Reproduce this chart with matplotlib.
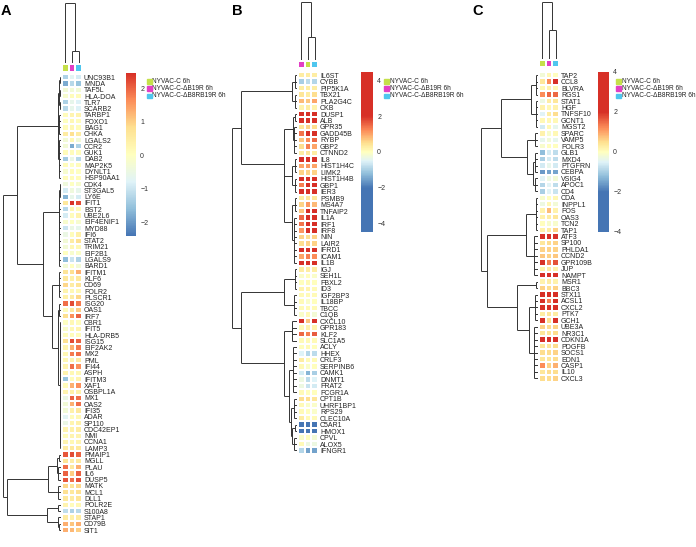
import numpy as np
import matplotlib
matplotlib.use('Agg')
import matplotlib.pyplot as plt
from matplotlib.colors import LinearSegmentedColormap, Normalize, ListedColormap
from matplotlib.cm import ScalarMappable
from matplotlib.patches import Rectangle

plt.rcParams['font.family'] = ['Liberation Sans', 'DejaVu Sans']

# ---------------- data ----------------
conditions = ["NYVAC-C 6h", "NYVAC-C-\u0394B19R 6h", "NYVAC-C-\u0394B8RB19R 6h"]
cond_colors = ['#c5e04a', '#e23fc4', '#4fc6ee']

# Panel A (columns shown: NYVAC-C, dB19R, dB8RB19R)
cols_A = [0, 1, 2]
genes_A = ["UNC93B1", "MNDA", "TAF5L", "HLA-DOA", "TLR7", "SCARB2", "TARBP1", "FOXO1", "BAG1", "CHKA",
           "LGALS2", "CCR2", "GUK1", "DAB2", "MAP2K5", "DYNLT1", "HSP90AA1", "CDK4", "ST3GAL5", "LY6E",
           "IFIT1", "BST2", "UBE2L6", "EIF4ENIF1", "MYD88", "IFI6", "STAT2", "TRIM21", "EIF2B1", "LGALS9",
           "BARD1", "IFITM1", "KLF6", "CD69", "FOLR2", "PLSCR1", "ISG20", "OAS1", "IRF7", "CBR1",
           "IFIT5", "HLA-DRB5", "ISG15", "EIF2AK2", "MX2", "PML", "IFI44", "ASPH", "IFITM3", "XAF1",
           "OSBPL1A", "MX1", "OAS2", "IFI35", "ADAR", "SP110", "CDC42EP1", "NMI", "CCNA1", "LAMP3",
           "PMAIP1", "MGLL", "PLAU", "IL6", "DUSP5", "MATK", "MCL1", "DLL1", "POLR2E", "S100A8",
           "STAP1", "CD79B", "SIT1"]
values_A = [[-1.3, -0.7, -0.9], [-1.8, -1.2, -1.5], [-0.3, -0.3, -0.3], [-0.2, 0.1, 0.1], [-1.3, -0.6, -0.8],
            [-1.2, -0.6, -0.8], [0.1, 0.3, 0.3], [0.0, 0.2, 0.1], [0.1, 0.2, 0.1], [0.5, 0.8, 0.5],
            [-0.3, 0.2, -0.3], [-0.3, -1.8, -1.3], [0.1, 0.1, 0.1], [-1.4, -0.5, -1.2], [0.1, 0.0, 0.1],
            [-0.2, 0.1, 0.0], [0.1, 0.1, 0.1], [-0.4, 0.0, -0.2], [-0.9, -0.4, -0.6], [-1.7, -0.6, -0.9],
            [0.6, 2.4, 2.2], [-1.2, 0.2, 0.1], [-0.9, 0.1, 0.3], [-0.2, 0.0, -0.2], [-1.0, -0.5, -0.6],
            [-0.5, 0.1, 0.4], [-0.3, 0.5, 0.8], [-0.3, 0.2, 0.2], [0.0, -0.2, -0.1], [-1.6, -1.0, -1.3],
            [-0.3, 0.0, -0.3], [0.7, 0.8, 1.3], [0.6, 0.4, 0.6], [0.9, 0.5, 0.7], [0.3, 0.2, 0.2],
            [0.4, 0.5, 0.9], [1.9, 2.2, 1.8], [0.1, 0.6, 1.0], [0.8, 1.6, 2.0], [0.0, 0.2, 0.1],
            [-0.1, 0.2, 0.3], [0.1, 0.1, 0.1], [0.8, 2.2, 2.0], [0.3, 1.3, 1.8], [0.2, 1.8, 1.9],
            [0.2, 0.3, 0.5], [0.3, 1.9, 1.6], [0.3, 0.2, 0.2], [-1.5, 0.1, 0.3], [0.1, 1.3, 1.6],
            [0.3, 0.4, 0.4], [-0.5, 2.0, 1.9], [-0.3, 1.3, 1.9], [-0.3, 0.4, 0.6], [-0.7, 0.1, 0.2],
            [-0.5, 0.3, 0.4], [0.3, 0.4, 0.5], [0.1, 0.3, 0.3], [0.3, 0.2, 0.3], [0.5, 0.6, 0.6],
            [2.1, 2.2, 2.0], [0.7, 0.5, 0.6], [1.9, 0.6, 1.3], [2.0, 1.0, 2.0], [2.1, 1.9, 2.2],
            [0.9, 0.7, 0.9], [0.8, 0.6, 0.8], [0.6, 0.5, 0.7], [0.3, 0.1, 0.2], [-1.1, -1.3, -1.2],
            [0.5, 0.4, 0.5], [1.3, 1.1, 1.3], [1.3, 1.2, 1.0]]

# Panel B (columns shown: dB19R, NYVAC-C, dB8RB19R)
cols_B = [1, 0, 2]
genes_B = ["IL6ST", "CYBB", "PIP5K1A", "TBX21", "PLA2G4C", "CKB", "DUSP1", "ALB", "GPR35", "GADD45B",
           "RYBP", "GBP2", "CTNND2", "IL8", "HIST1H4C", "LIMK2", "HIST1H4B", "GBP1", "IER3", "PSMB9",
           "MS4A7", "TNFAIP2", "IL1A", "IRF1", "IRF8", "NIN", "LAIR2", "IFRD1", "ICAM1", "IL1B",
           "IGJ", "SEH1L", "FBXL2", "ID3", "IGF2BP3", "IL18BP", "TBCC", "C1QB", "CXCL10", "GPR183",
           "KLF2", "SLC1A5", "ACLY", "HHEX", "CRLF3", "SERPINB6", "CAMK1", "DNMT1", "FRAT2", "FCGR1A",
           "CPT1B", "UHRF1BP1", "RPS29", "CLEC10A", "C5AR1", "HMOX1", "CPVL", "ALOX5", "IFNGR1"]
values_B = [[0.3, 0.3, 0.3], [-1.0, -0.8, -0.9], [0.3, 0.3, 0.3], [0.4, 0.3, 0.5], [0.8, 0.7, 1.0],
            [0.2, 0.3, 0.2], [3.0, 3.0, 3.0], [3.0, 3.0, 3.0], [0.4, 0.6, 0.5], [1.4, 2.5, 2.0],
            [0.7, 1.2, 1.5], [0.5, 1.3, 1.0], [0.3, 0.4, 0.3], [2.5, 2.5, 2.5], [1.0, 1.1, 1.0],
            [0.6, 0.6, 0.6], [2.5, 2.5, 2.5], [1.3, 2.5, 2.5], [2.5, 2.5, 2.5], [0.3, 0.4, 0.4],
            [0.6, 1.1, 0.8], [0.7, 2.5, 2.5], [1.5, 2.5, 2.5], [1.4, 2.5, 2.5], [1.1, 2.5, 2.5],
            [0.6, 0.5, 0.6], [0.5, 0.6, 0.6], [2.5, 2.5, 2.5], [1.0, 1.3, 1.2], [2.5, 2.5, 2.5],
            [0.3, 0.3, 0.3], [-0.1, 0.0, -0.1], [0.0, 0.1, 0.0], [0.2, 0.2, 0.1], [0.1, 0.1, 0.1],
            [0.1, -0.1, 0.0], [0.1, 0.1, 0.1], [-0.1, 0.1, -0.2], [2.5, 0.7, 2.5], [0.1, 0.2, 0.2],
            [1.5, 1.3, 1.6], [0.1, 0.1, 0.1], [0.0, 0.1, 0.0], [-0.5, -0.9, -0.8], [0.3, 0.1, 0.1],
            [0.1, -0.1, 0.0], [-0.6, -1.3, -1.0], [-0.3, -0.8, -0.5], [-0.3, -0.7, -0.6], [0.1, 0.0, 0.0],
            [0.5, 0.5, 0.4], [0.1, -0.1, -0.1], [0.1, 0.0, -0.1], [0.3, 0.1, 0.1], [-2.0, -2.0, -2.0],
            [-2.0, -2.0, -2.0], [-0.1, 0.0, -0.2], [0.1, -0.3, -0.3], [-0.9, -1.5, -1.5]]

# Panel C (columns shown: NYVAC-C, dB19R, dB8RB19R)
cols_C = [0, 1, 2]
genes_C = ["TAP2", "CCL8", "BLVRA", "RGS1", "STAT1", "HGF", "TNFSF10", "GCNT1", "MGST2", "SPARC",
           "VAMP5", "FOLR3", "GLB1", "MXD4", "PTGFRN", "CEBPA", "VSIG4", "APOC1", "CD4", "CDA",
           "INPPL1", "FOS", "OAS3", "TCN2", "TAP1", "ATF3", "SP100", "PHLDA1", "CCND2", "GPR109B",
           "JUP", "NAMPT", "MSR1", "BBC3", "STX11", "ACSL1", "CXCL2", "PTK7", "GCH1", "UBE3A",
           "NR3C1", "CDKN1A", "PDGFB", "SOCS1", "EDN1", "CASP1", "IL10", "CXCL3"]
values_C = [[-0.2, 0.1, 0.0], [0.4, 1.2, 2.0], [0.1, 0.2, 0.1], [1.2, 1.5, 1.5], [-0.3, 0.3, 0.4],
            [0.2, 0.1, 0.2], [-0.5, 0.3, 0.5], [0.1, 0.1, 0.1], [-0.6, 0.1, -0.4], [0.2, -0.1, 0.1],
            [-0.4, -0.2, -0.4], [-0.1, 0.0, 0.0], [-1.2, -0.6, -0.8], [-1.0, -0.6, -0.8], [-0.6, -0.4, -0.6],
            [-1.6, -1.5, -1.5], [-0.5, -0.3, -0.2], [-0.9, -0.5, -0.8], [-1.0, -0.5, -0.7], [-0.1, 0.0, 0.1],
            [-0.3, 0.1, -0.2], [0.2, 0.8, 0.2], [0.2, 0.3, 0.4], [0.0, -0.1, -0.1], [0.2, 0.3, 0.6],
            [2.2, 2.2, 2.2], [0.4, 0.5, 0.6], [0.6, 0.6, 0.6], [0.7, 0.6, 0.7], [2.0, 1.3, 1.7],
            [0.2, 0.3, 0.2], [2.2, 2.2, 2.2], [0.2, 0.3, 0.2], [0.6, 0.5, 0.6], [2.2, 2.2, 2.2],
            [2.2, 1.3, 2.2], [2.2, 2.2, 2.2], [0.3, 0.4, 0.3], [2.2, 0.5, 2.2], [0.6, 0.5, 0.6],
            [0.4, 0.4, 0.5], [2.2, 2.2, 2.2], [0.4, 0.4, 0.5], [0.5, 0.5, 0.6], [0.4, 0.4, 0.5],
            [1.2, 0.6, 0.9], [0.4, 0.5, 0.5], [0.5, 0.5, 0.6]]

# row dendrograms: (height, child, child, ...) ; leaves are row indices
tree_A = (58,
          (44,
           (3, (2, (1, 0, 1), (1, 2, 3), (1, 4, 5)), (1.5, 6, 7, 8, 9), (2, 10, 11, 12, 13, 14, 15, 16)),
           (18,
            (2, (1, 17, 18, 19), (1.5, 20, 21, 22, 23, 24, 25, 26, 27, 28, 29, 30)),
            (9, (2, 31, 32, 33, 34, 35),
             (2.5, (1.5, 36, 37, 38),
              (1, 39, 40, 41, 42, 43, 44, 45, 46, 47, 48, 49, 50, 51, 52, 53, 54, 55, 56, 57, 58, 59))))),
          (54,
           (13, (4, (2, 60, 61), (2.5, 62, 63, 64)), (3, 65, 66, 67)),
           (14, (3, 68, 69), (2.5, 70, (1.5, 71, 72)))))
tree_B = (65,
          (56, (5, (2, 0, 1, 2), (2, 3, 4, 5)),
           (13, (4, (2, 6, 7), (3, 8, 9, 10, 11, 12)),
            (13, (5, (2, 13, 14, 15), (2, 16, 17, 18)),
             (5, (2, 19, 20, 21), (3, 22, 23, 24, 25, 26, 27, 28, 29))))),
          (56, (13, (2, 30, 31, 32, 33), (3, 34, 35, 36, 37)),
           (13, (5, 38, 39, 40, 41),
            (8, (4, 42, 43, 44, 45, 46, 47, 48, 49),
             (6, (3, 50, 51, 52, 53), (5, (2, 54, 55), (3, 56, 57, 58)))))))
tree_C = (57,
          (37, (7, (2, 0, 1, 2, 3), (2, 4, 5, 6, 7, 8)),
           (11, (3, 9, 10, 11), (5, (3, 12, 13, 14, 15), (3, 16, 17, 18)))),
          (51, (12, (2, 19, 20, 21, 22, 23, 24), (4, 25, 26, 27, 28, 29, 30, 31)),
           (21, (2, 32, 33), (9, (3, 34, 35, 36, 37, 38), (4, 39, 40, 41, 42, 43, 44, 45, 46, 47)))))
# column dendrograms (on displayed column positions)
ctree_A = (60, 0, (12, 1, 2))
ctree_B = (58, 0, (23, 1, 2))
ctree_C = (57, 0, (29, 1, 2))

# colour scales
rdylbu = ['#4575B4', '#91BFDB', '#E0F3F8', '#FFFFBF', '#FEE090', '#FC8D59', '#D73027']
range_A = (-2.4, 2.45)
range_B = (-4.45, 4.45)
range_C = (-4.0, 4.0)
ticks_A = [-2, -1, 0, 1, 2]
ticks_BC = [-4, -2, 0, 2, 4]
sat_nodes = [-2.0, -1.2, -0.5, 0.0, 0.5, 1.2, 2.0]

# ---------------- drawing ----------------
W, H = 696, 547
fig = plt.figure(figsize=(W / 100, H / 100), dpi=100)
LC = '#333333'


def add_ax(x0, y0, x1, y1):
    ax = fig.add_axes([x0 / W, 1 - y1 / H, (x1 - x0) / W, (y1 - y0) / H])
    ax.set_axis_off()
    return ax


def seg(ax, orient, pos, hgt):
    if orient == 'row':
        ax.plot(hgt, pos, color=LC, lw=0.7, solid_capstyle='butt')
    else:
        ax.plot(pos, hgt, color=LC, lw=0.7, solid_capstyle='butt')


def draw_tree(ax, node, orient):
    if isinstance(node, int):
        return node + 0.5, 0.0
    h = node[0]
    kids = [draw_tree(ax, c, orient) for c in node[1:]]
    ps = [k[0] for k in kids]
    for p, hc in kids:
        seg(ax, orient, [p, p], [hc, h])
    seg(ax, orient, [min(ps), max(ps)], [h, h])
    return (min(ps) + max(ps)) / 2, h


def make_cmap(vmin, vmax, saturate):
    if not saturate:
        return LinearSegmentedColormap.from_list('c', rdylbu, N=256)
    pts = [0.0] + [(v - vmin) / (vmax - vmin) for v in sat_nodes] + [1.0]
    cols = [rdylbu[0]] + rdylbu + [rdylbu[-1]]
    return LinearSegmentedColormap.from_list('c', list(zip(pts, cols)), N=256)


def panel(letter, lx, genes, values, cols, tree, ctree, vrange, saturate, ticks,
          hx0, top, rowh, ann_y, cb, leg_x, dendro_x0):
    n = len(genes)
    vals = np.array(values)
    vmin, vmax = vrange
    cmap = make_cmap(vmin, vmax, saturate)
    norm = Normalize(vmin, vmax)
    cw = 6.6
    hx1 = hx0 + 3 * cw
    bottom = top + n * rowh
    # heatmap
    ax = add_ax(hx0, top, hx1, bottom)
    ax.set_axis_on()
    ax.pcolormesh(np.arange(4), np.arange(n + 1), vals, cmap=cmap, norm=norm,
                  edgecolors='white', linewidth=0.25)
    ax.set_xlim(0, 3)
    ax.set_ylim(n, 0)
    for s in ax.spines.values():
        s.set_visible(False)
    ax.set_xticks([])
    ax.yaxis.tick_right()
    ax.set_yticks(np.arange(n) + 0.5)
    ax.set_yticklabels(genes, fontsize=5.0, color='#222222')
    ax.tick_params(axis='y', length=0, pad=1.5)
    # annotation bar
    ax2 = add_ax(hx0, ann_y[0], hx1, ann_y[1])
    ax2.pcolormesh(np.arange(4), [0, 1], np.array([cols]), cmap=ListedColormap(cond_colors),
                   vmin=-0.5, vmax=2.5, edgecolors='white', linewidth=0.3)
    ax2.set_xlim(0, 3)
    ax2.set_ylim(0, 1)
    # row dendrogram
    D = hx0 - 1 - dendro_x0
    ax3 = add_ax(dendro_x0, top, hx0 - 1, bottom)
    draw_tree(ax3, tree, 'row')
    ax3.set_xlim(D, 0)
    ax3.set_ylim(n, 0)
    # column dendrogram
    ch = ann_y[0] - 1 - 2
    ax4 = add_ax(hx0, 2, hx1, ann_y[0] - 1)
    draw_tree(ax4, ctree, 'col')
    ax4.set_xlim(0, 3)
    ax4.set_ylim(0, ch)
    # colour bar
    cax = add_ax(*cb)
    cax.set_axis_on()
    cbar = fig.colorbar(ScalarMappable(norm=norm, cmap=cmap), cax=cax, ticks=ticks)
    cbar.outline.set_visible(False)
    cax.tick_params(length=0, labelsize=5, pad=3, colors='#333333')
    cax.set_yticklabels([('\u2212' + str(abs(t))) if t < 0 else str(t) for t in ticks])
    # legend
    for i, (lab, c) in enumerate(zip(conditions, cond_colors)):
        y = 81 + 7.3 * i
        fig.patches.append(Rectangle(((leg_x) / W, 1 - (y + 2.5) / H), 4.5 / W, 4.5 / H,
                                     transform=fig.transFigure, color=c, zorder=5))
        fig.text((leg_x + 5.5) / W, 1 - (y + 0.2) / H, lab, fontsize=4.7, va='center', ha='left',
                 color='#222222')
    fig.text(lx / W, 1 - 11 / H, letter, fontsize=10.5, fontweight='bold', va='center', ha='left')


panel('A', 1, genes_A, values_A, cols_A, tree_A, ctree_A, range_A, False, ticks_A,
      62, 74.0, 6.29, (64, 72), (126, 73, 136, 236), 147, 2)
panel('B', 232, genes_B, values_B, cols_B, tree_B, ctree_B, range_B, True, ticks_BC,
      298, 72.0, 6.47, (61, 68), (361, 72, 373, 232), 384, 232)
panel('C', 472, genes_C, values_C, cols_C, tree_C, ctree_C, range_C, True, ticks_BC,
      539, 72.0, 6.45, (60, 67), (598, 72, 609, 232), 616, 481)

fig.savefig('out.png', dpi=100)
